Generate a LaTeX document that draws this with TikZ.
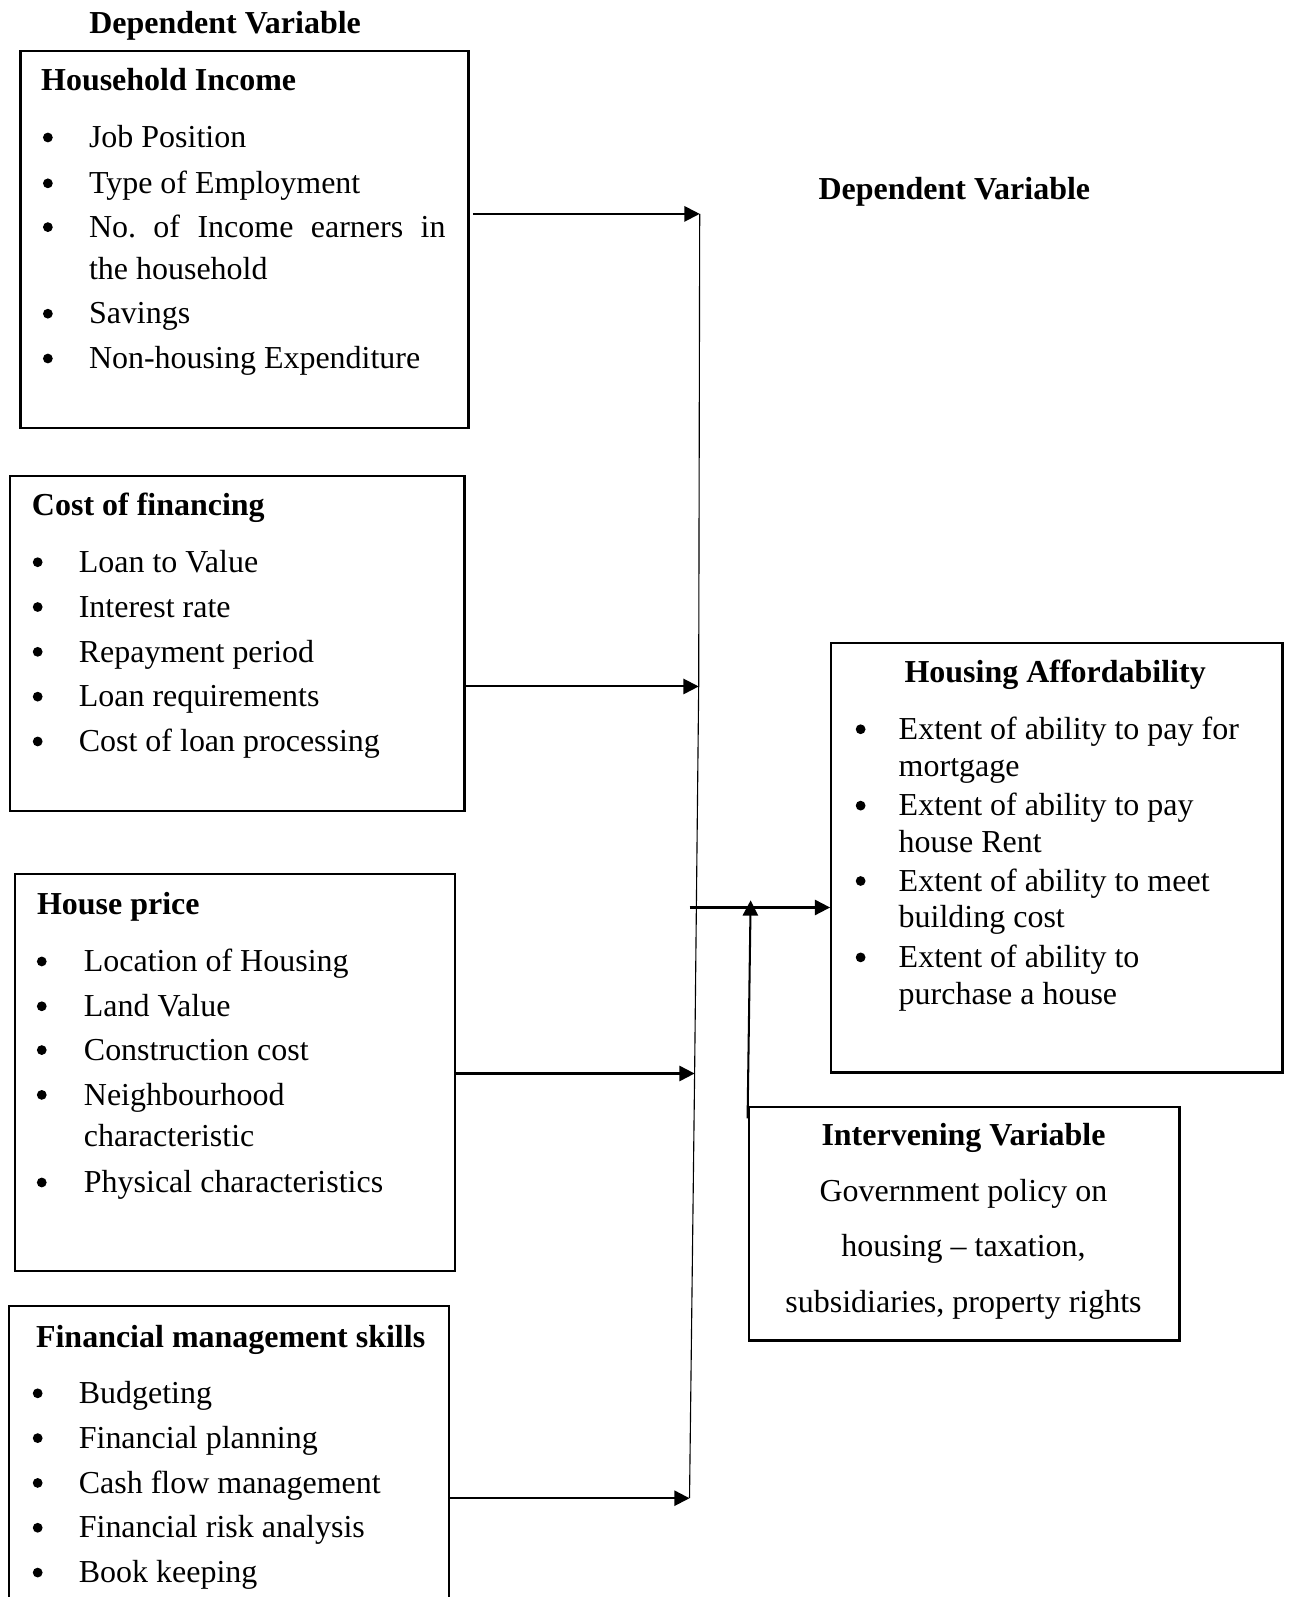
\documentclass[tikz,border=0pt]{standalone}
\usepackage{fontspec}
\setmainfont{Liberation Serif}
\usetikzlibrary{arrows.meta,positioning,calc}
\newcommand{\varfont}{\fontsize{15.7}{19}\selectfont}
\tikzset{
  varbox/.style={draw=black, line width=1.1pt, anchor=north west, inner sep=0pt},
  varhead/.style={anchor=base west, font=\varfont\bfseries, inner sep=0pt},
  vartitle/.style={anchor=base, font=\varfont\bfseries, inner sep=0pt},
  varitem/.style={anchor=base west, font=\varfont, inner sep=0pt},
  varline/.style={anchor=base, font=\varfont, inner sep=0pt},
  dot/.style={circle, fill=black, inner sep=0pt, minimum size=4.8pt},
  flowarr/.style={-{Triangle[length=7.5pt,width=7.5pt]}, line width=1pt},
  busline/.style={line width=0.55pt}
}
\begin{document}
\begin{tikzpicture}[x=0.5pt, y=-0.5pt]
  \useasboundingbox (0,0) rectangle (1265,1568);

  % independent variables
  \node[vartitle] (deptop) at (221,33) {Dependent Variable};

  \node[varbox, minimum width=220pt, minimum height=185pt] (hi) at (19,49) {};
  \node[varhead] (hi-h) at (40,89) {Household Income};
  \foreach \y/\t [count=\i] in {145/Job Position, 190/Type of Employment,
      233/{\makebox[175pt][s]{No.\ of Income earners in}}, 318/Savings,
      362/Non-housing Expenditure} {
    \node[dot] (hi-b\i) at (47,\y-10) {};
    \node[varitem] (hi-\i) at (87,\y) {\t};
  }
  \node[varitem] (hi-c) at (87,274) {the household};

  \node[varbox, minimum width=223pt, minimum height=164.5pt] (cf) at (9,466) {};
  \node[varhead] (cf-h) at (31,506) {Cost of financing};
  \foreach \y/\t [count=\i] in {562/Loan to Value, 606/Interest rate,
      650/Repayment period, 694/Loan requirements, 738/Cost of loan processing} {
    \node[dot] (cf-b\i) at (37,\y-10) {};
    \node[varitem] (cf-\i) at (77,\y) {\t};
  }

  \node[varbox, minimum width=216pt, minimum height=195pt] (hp) at (14,857) {};
  \node[varhead] (hp-h) at (36,898) {House price};
  \foreach \y/\t [count=\i] in {954/Location of Housing, 998/Land Value,
      1041/Construction cost, 1085/Neighbourhood, 1171/Physical characteristics} {
    \node[dot] (hp-b\i) at (41,\y-10) {};
    \node[varitem] (hp-\i) at (82,\y) {\t};
  }
  \node[varitem] (hp-c) at (82,1126) {characteristic};

  \node[anchor=north west, inner sep=0pt, minimum width=215.5pt,
        minimum height=150pt] (fm) at (9,1282) {};
  \draw[line width=1.1pt] (fm.south west) -- (fm.north west)
    -- (fm.north east) -- (fm.south east);
  \node[varhead] (fm-h) at (35,1323) {Financial management skills};
  \foreach \y/\t [count=\i] in {1378/Budgeting, 1422/Financial planning,
      1466/Cash flow management, 1510/Financial risk analysis,
      1554/Book keeping} {
    \node[dot] (fm-b\i) at (37,\y-10) {};
    \node[varitem] (fm-\i) at (77,\y) {\t};
  }

  % dependent variable
  \node[vartitle] (depright) at (937,196) {Dependent Variable};
  \node[varbox, minimum width=221.5pt, minimum height=211pt] (ha) at (815,630) {};
  \node[vartitle] (ha-h) at (1036,670) {Housing Affordability};
  \foreach \y/\t [count=\i] in {726/Extent of ability to pay for,
      801/Extent of ability to pay, 875/Extent of ability to meet,
      950/Extent of ability to} {
    \node[dot] (ha-b\i) at (845,\y-10) {};
    \node[varitem] (ha-\i) at (882,\y) {\t};
  }
  \foreach \y/\t [count=\i] in {762/mortgage, 837/house Rent,
      911/building cost, 986/purchase a house}
    \node[varitem] (ha-c\i) at (882,\y) {\t};

  % intervening variable
  \node[varbox, minimum width=211.5pt, minimum height=114.5pt] (iv) at (734,1086) {};
  \node[vartitle] (iv-h) at (946,1125) {Intervening Variable};
  \node[varline] (iv-1) at (946,1180) {Government policy on};
  \node[varline] (iv-2) at (946,1234) {housing -- taxation,};
  \node[varline] (iv-3) at (946,1289) {subsidiaries, property rights};

  % connectors
  \coordinate (bus1) at (687,210);
  \coordinate (bus2) at (686,674);
  \coordinate (bus3) at (682,1054);
  \coordinate (bus4) at (677,1471);
  \coordinate (hub) at (677,891);
  \coordinate (ivtip) at (737,884);
  \draw[busline] (bus1) -- (bus2) -- (bus3) -- (bus4);

  \draw[flowarr] ($(hi.north east |- bus1)+(3,0)$) -- (bus1);
  \draw[flowarr] ($(cf.north east |- bus2)+(-2,0)$) -- (bus2);
  \draw[flowarr] (hp.north east |- bus3) -- (bus3);
  \draw[flowarr] (fm.north east |- bus4) -- (bus4);
  \draw[flowarr] (hub) -- (ha.west |- hub);
  \draw[flowarr] ($(iv.north west)+(0,12)$) -- (ivtip);
\end{tikzpicture}
\end{document}
